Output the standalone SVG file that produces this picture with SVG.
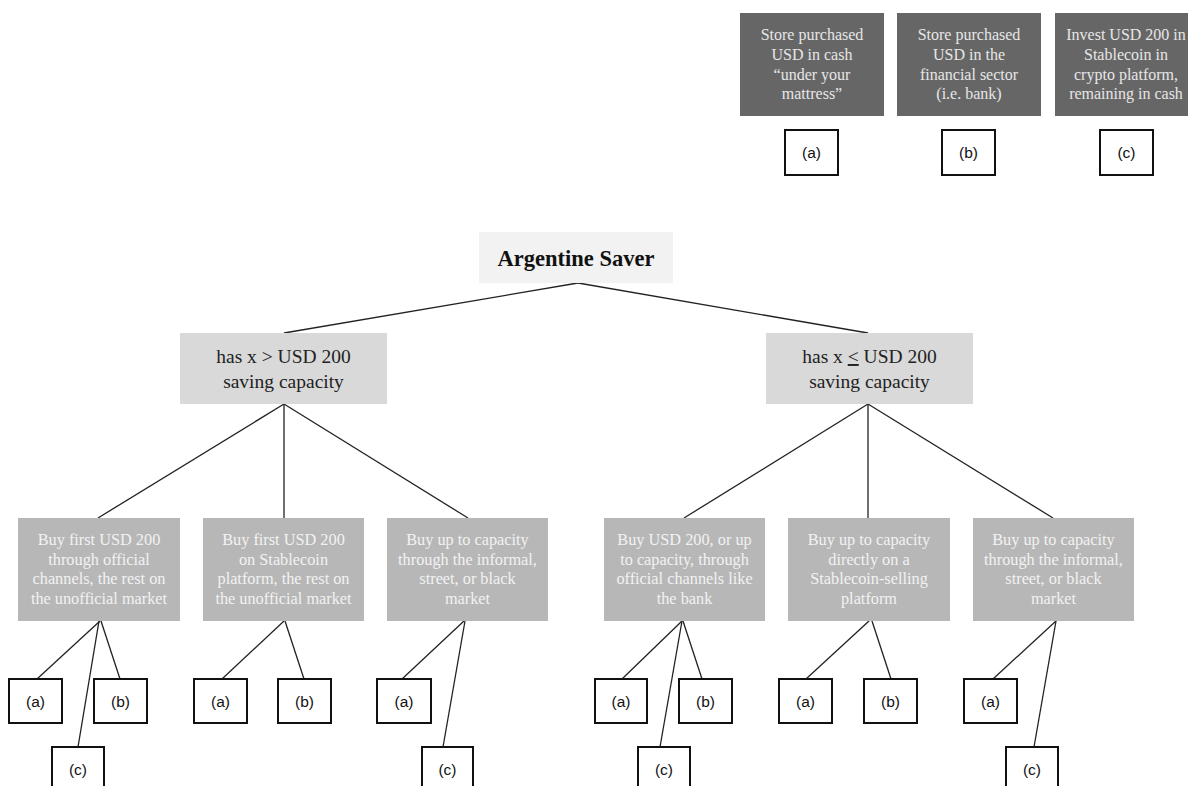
<svg xmlns="http://www.w3.org/2000/svg" width="1188" height="786" viewBox="0 0 1188 786">
<style>
.dark{fill:#666666}
.dt{font-family:"Liberation Serif",serif;font-size:16px;fill:#e6e6e6;text-anchor:middle}
.root{fill:#f2f2f2}
.rt{font-family:"Liberation Serif",serif;font-size:22.5px;font-weight:bold;fill:#111;text-anchor:middle}
.l2{fill:#d9d9d9}
.l2t{font-family:"Liberation Serif",serif;font-size:19.5px;fill:#222;text-anchor:middle}
.l3{fill:#b7b7b7}
.l3t{font-family:"Liberation Serif",serif;font-size:16.3px;fill:#f2f2f2;text-anchor:middle}
.leaf{fill:#fff;stroke:#111;stroke-width:2}
.lt{font-family:"Liberation Sans",sans-serif;font-size:15.5px;fill:#111;text-anchor:middle}
.c line{stroke:#222;stroke-width:1.3}
</style>
<rect width="1188" height="786" fill="#fff"/>
<g id="legend-a">
<rect class="dark" x="740" y="13" width="144" height="103"/>
<text class="dt" x="812" y="40">Store purchased</text>
<text class="dt" x="812" y="60">USD in cash</text>
<text class="dt" x="812" y="80">“under your</text>
<text class="dt" x="812" y="99">mattress”</text>
<rect class="leaf" x="785" y="130" width="53" height="45"/>
<text class="lt" x="811.5" y="158">(a)</text>
</g>
<g id="legend-b">
<rect class="dark" x="897" y="13" width="144" height="103"/>
<text class="dt" x="969" y="40">Store purchased</text>
<text class="dt" x="969" y="60">USD in the</text>
<text class="dt" x="969" y="80">financial sector</text>
<text class="dt" x="969" y="99">(i.e. bank)</text>
<rect class="leaf" x="942" y="130" width="53" height="45"/>
<text class="lt" x="968.5" y="158">(b)</text>
</g>
<g id="legend-c">
<rect class="dark" x="1055" y="13" width="140" height="103"/>
<text class="dt" x="1126" y="40">Invest USD 200 in</text>
<text class="dt" x="1126" y="60">Stablecoin in</text>
<text class="dt" x="1126" y="80">crypto platform,</text>
<text class="dt" x="1126" y="99">remaining in cash</text>
<rect class="leaf" x="1100" y="130" width="53" height="45"/>
<text class="lt" x="1126.5" y="158">(c)</text>
</g>
<g id="connectors" class="c">
<line x1="578" y1="283" x2="284" y2="333"/>
<line x1="578" y1="283" x2="868" y2="333"/>
<line x1="284" y1="404" x2="98" y2="518"/>
<line x1="284" y1="404" x2="284" y2="518"/>
<line x1="284" y1="404" x2="468" y2="518"/>
<line x1="868" y1="404" x2="684" y2="518"/>
<line x1="868" y1="404" x2="868" y2="518"/>
<line x1="868" y1="404" x2="1053" y2="518"/>
<line x1="100" y1="621" x2="37" y2="679"/>
<line x1="101" y1="621" x2="120" y2="679"/>
<line x1="99" y1="621" x2="78" y2="747"/>
<line x1="284" y1="621" x2="222" y2="679"/>
<line x1="285" y1="621" x2="304" y2="679"/>
<line x1="464" y1="621" x2="402" y2="679"/>
<line x1="465" y1="621" x2="443" y2="747"/>
<line x1="682" y1="621" x2="622" y2="679"/>
<line x1="683" y1="621" x2="702" y2="679"/>
<line x1="682" y1="621" x2="660" y2="747"/>
<line x1="869" y1="621" x2="806" y2="679"/>
<line x1="872" y1="621" x2="891" y2="679"/>
<line x1="1056" y1="621" x2="993" y2="679"/>
<line x1="1056" y1="621" x2="1034" y2="747"/>
</g>
<g id="root">
<rect class="root" x="479" y="232" width="194" height="51"/>
<text class="rt" x="576" y="266">Argentine Saver</text>
</g>
<g id="more">
<rect class="l2" x="180" y="333" width="207" height="71"/>
<text class="l2t" x="283.5" y="363">has x &gt; USD 200</text>
<text class="l2t" x="283.5" y="388">saving capacity</text>
</g>
<g id="less">
<rect class="l2" x="766" y="333" width="207" height="71"/>
<text class="l2t" x="869.5" y="363">has x <tspan text-decoration="underline">&lt;</tspan> USD 200</text>
<text class="l2t" x="869.5" y="388">saving capacity</text>
</g>
<g id="m1">
<rect class="l3" x="18" y="518" width="162" height="103"/>
<text class="l3t" x="99" y="545">Buy first USD 200</text>
<text class="l3t" x="99" y="565">through official</text>
<text class="l3t" x="99" y="584">channels, the rest on</text>
<text class="l3t" x="99" y="604">the unofficial market</text>
</g>
<g id="m2">
<rect class="l3" x="203" y="518" width="161" height="103"/>
<text class="l3t" x="283.5" y="545">Buy first USD 200</text>
<text class="l3t" x="283.5" y="565">on Stablecoin</text>
<text class="l3t" x="283.5" y="584">platform, the rest on</text>
<text class="l3t" x="283.5" y="604">the unofficial market</text>
</g>
<g id="m3">
<rect class="l3" x="387" y="518" width="161" height="103"/>
<text class="l3t" x="467.5" y="545">Buy up to capacity</text>
<text class="l3t" x="467.5" y="565">through the informal,</text>
<text class="l3t" x="467.5" y="584">street, or black</text>
<text class="l3t" x="467.5" y="604">market</text>
</g>
<g id="l1">
<rect class="l3" x="604" y="518" width="161" height="103"/>
<text class="l3t" x="684.5" y="545">Buy USD 200, or up</text>
<text class="l3t" x="684.5" y="565">to capacity, through</text>
<text class="l3t" x="684.5" y="584">official channels like</text>
<text class="l3t" x="684.5" y="604">the bank</text>
</g>
<g id="l2">
<rect class="l3" x="788" y="518" width="162" height="103"/>
<text class="l3t" x="869" y="545">Buy up to capacity</text>
<text class="l3t" x="869" y="565">directly on a</text>
<text class="l3t" x="869" y="584">Stablecoin-selling</text>
<text class="l3t" x="869" y="604">platform</text>
</g>
<g id="l3">
<rect class="l3" x="973" y="518" width="161" height="103"/>
<text class="l3t" x="1053.5" y="545">Buy up to capacity</text>
<text class="l3t" x="1053.5" y="565">through the informal,</text>
<text class="l3t" x="1053.5" y="584">street, or black</text>
<text class="l3t" x="1053.5" y="604">market</text>
</g>
<g id="m1a"><rect class="leaf" x="9" y="679" width="53" height="44"/><text class="lt" x="35.5" y="707">(a)</text></g>
<g id="m1b"><rect class="leaf" x="94" y="679" width="53" height="44"/><text class="lt" x="120.5" y="707">(b)</text></g>
<g id="m1c"><rect class="leaf" x="52" y="747" width="52" height="50"/><text class="lt" x="78" y="775">(c)</text></g>
<g id="m2a"><rect class="leaf" x="194" y="679" width="53" height="44"/><text class="lt" x="220.5" y="707">(a)</text></g>
<g id="m2b"><rect class="leaf" x="278" y="679" width="53" height="44"/><text class="lt" x="304.5" y="707">(b)</text></g>
<g id="m3a"><rect class="leaf" x="377" y="679" width="54" height="44"/><text class="lt" x="404" y="707">(a)</text></g>
<g id="m3c"><rect class="leaf" x="422" y="747" width="51" height="50"/><text class="lt" x="447.5" y="775">(c)</text></g>
<g id="l1a"><rect class="leaf" x="595" y="679" width="52" height="44"/><text class="lt" x="621" y="707">(a)</text></g>
<g id="l1b"><rect class="leaf" x="679" y="679" width="53" height="44"/><text class="lt" x="705.5" y="707">(b)</text></g>
<g id="l1c"><rect class="leaf" x="638" y="747" width="52" height="50"/><text class="lt" x="664" y="775">(c)</text></g>
<g id="l2a"><rect class="leaf" x="779" y="679" width="53" height="44"/><text class="lt" x="805.5" y="707">(a)</text></g>
<g id="l2b"><rect class="leaf" x="864" y="679" width="53" height="44"/><text class="lt" x="890.5" y="707">(b)</text></g>
<g id="l3a"><rect class="leaf" x="964" y="679" width="53" height="44"/><text class="lt" x="990.5" y="707">(a)</text></g>
<g id="l3c"><rect class="leaf" x="1006" y="747" width="52" height="50"/><text class="lt" x="1032" y="775">(c)</text></g>
</svg>
